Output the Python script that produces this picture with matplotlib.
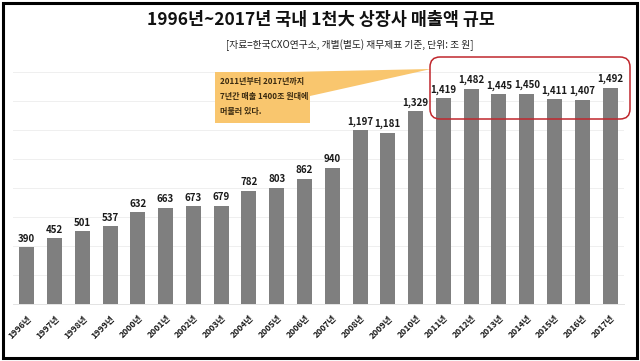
import matplotlib
matplotlib.use("Agg")
import matplotlib.pyplot as plt
from matplotlib.patches import FancyBboxPatch, Polygon, Rectangle
import numpy as np

plt.rcParams['font.family'] = ['Noto Sans CJK KR', 'DejaVu Sans']

years = [str(y) + "년" for y in range(1996, 2018)]
sales = [390, 452, 501, 537, 632, 663, 673, 679, 782, 803, 862, 940,
         1197, 1181, 1329, 1419, 1482, 1445, 1450, 1411, 1407, 1492]

title = "1996년~2017년 국내 1천大 상장사 매출액 규모"
subtitle = "[자료=한국CXO연구소, 개별(별도) 재무제표 기준, 단위: 조 원]"
note = "2011년부터 2017년까지\n7년간 매출 1400조 원대에\n머물러 있다."

W, H = 640, 361
fig = plt.figure(figsize=(W / 100, H / 100), dpi=100)

# pixel -> inch helper (origin top-left)
def px(x, y):
    return (x / 100, (H - y) / 100)

ax = fig.add_axes([12.8 / W, 1 - 304 / H, (624 - 12.8) / W, (304 - 72) / H])
x = np.arange(len(sales))
ax.bar(x, sales, width=0.54, color="#7f7f7f", zorder=3)
for xi, v in zip(x, sales):
    ax.text(xi, v + 25, f"{v:,}", ha="center", va="bottom", fontsize=7,
            fontweight="bold", color="#1a1a1a")

ax.set_xlim(-0.5, len(sales) - 0.5)
ax.set_ylim(0, 1600)
ax.set_yticks(np.arange(0, 1601, 200))
ax.yaxis.grid(True, color="#efefef", linewidth=0.7, zorder=0)
ax.tick_params(axis="y", length=0, labelleft=False)
ax.tick_params(axis="x", length=0, pad=7)
ax.set_xticks(x)
ax.set_xticklabels(years, rotation=45, ha="right", rotation_mode="anchor",
                   fontsize=6.2, fontweight="bold", color="#1a1a1a")
for s in ["top", "left", "right"]:
    ax.spines[s].set_visible(False)
ax.spines["bottom"].set_color("#e3e3e3")
ax.spines["bottom"].set_linewidth(0.7)

fig.text(321 / W, 1 - 20 / H, title, ha="center", va="center",
         fontsize=12.5, fontweight="bold", color="#111111")
fig.text(473 / W, 1 - 45 / H, subtitle, ha="right", va="center",
         fontsize=7, color="#222222")

tr = fig.dpi_scale_trans

# callout pointer and box
fig.patches.append(Polygon([px(288, 72), px(431, 69), px(310, 96)],
                           closed=True, facecolor="#f9c66e", edgecolor="none",
                           transform=tr, zorder=5))
bx0, by0 = px(215, 123)
bx1, by1 = px(310, 72)
fig.patches.append(Rectangle((bx0, by0), bx1 - bx0, by1 - by0,
                             facecolor="#f9c66e", edgecolor="none",
                             transform=tr, zorder=5))
tx, ty = px(220, 77)
fig.text(tx, ty, note, transform=tr, ha="left", va="top", fontsize=5.8,
         fontweight="bold", color="#3a2a10", linespacing=1.85, zorder=6)

# red rounded highlight
rx0, ry0 = px(430, 119)
rx1, ry1 = px(630, 57)
fig.patches.append(FancyBboxPatch((rx0, ry0), rx1 - rx0, ry1 - ry0,
                                  boxstyle="round,pad=0,rounding_size=0.1",
                                  facecolor="none", edgecolor="#c0272d",
                                  linewidth=1.1, transform=tr, zorder=6))

# outer frame
fx0, fy0 = px(3, 358)
fx1, fy1 = px(637, 3)
fig.patches.append(Rectangle((fx0, fy0), fx1 - fx0, fy1 - fy0,
                             facecolor="none", edgecolor="black",
                             linewidth=2.2, transform=tr, zorder=7))

fig.savefig("out.png", dpi=100)
